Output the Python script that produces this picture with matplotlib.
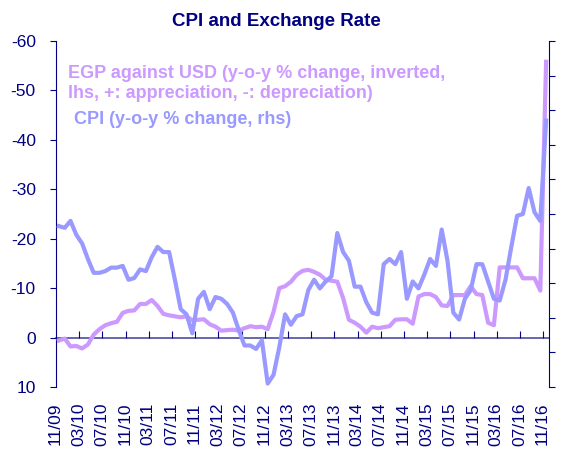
import numpy as np
import pandas as pd
import matplotlib
matplotlib.use("Agg")
import matplotlib.pyplot as plt
import matplotlib.transforms as mtransforms

plt.rcParams['font.family'] = ['Liberation Sans', 'DejaVu Sans']
plt.rcParams['axes.unicode_minus'] = False

# monthly data, Nov 2009 .. Nov 2016
months = pd.date_range("2009-11-01", periods=85, freq="MS").strftime("%m/%y").tolist()

# EGP against USD, y-o-y % change (lhs, inverted)
egp = [0.6, 0.2, 1.8, 1.7, 2.2, 1.4, -0.6, -1.7, -2.5, -2.9,
       -3.2, -5.0, -5.4, -5.5, -6.8, -6.8, -7.6, -6.4, -4.8, -4.5,
       -4.3, -4.1, -4.3, -3.5, -3.6, -3.7, -2.7, -2.2, -1.4, -1.5,
       -1.6, -1.4, -1.9, -2.3, -2.1, -2.2, -1.7, -5.2, -10.0, -10.4,
       -11.3, -12.7, -13.5, -13.7, -13.3, -12.7, -11.7, -11.5, -11.3, -8.0,
       -3.6, -3.0, -2.2, -1.0, -2.2, -1.9, -2.1, -2.3, -3.6, -3.7,
       -3.7, -2.8, -8.3, -8.8, -8.8, -8.2, -6.5, -6.4, -8.6, -8.6,
       -8.6, -10.4, -8.8, -8.6, -3.0, -2.5, -14.2, -14.2, -14.2, -14.2,
       -12.0, -12.0, -12.0, -9.5, -55.8]

# CPI, y-o-y % change (rhs)
cpi = [13.3, 13.2, 13.6, 12.8, 12.3, 11.4, 10.6, 10.6, 10.7, 10.9,
       10.9, 11.0, 10.2, 10.3, 10.8, 10.7, 11.5, 12.1, 11.8, 11.8,
       10.2, 8.5, 8.2, 7.1, 9.1, 9.5, 8.5, 9.2, 9.1, 8.8,
       8.3, 7.3, 6.4, 6.4, 6.2, 6.7, 4.2, 4.7, 6.3, 8.2,
       7.6, 8.1, 8.2, 9.6, 10.2, 9.7, 10.1, 10.4, 12.9, 11.8,
       11.3, 9.8, 9.8, 8.9, 8.3, 8.2, 11.1, 11.4, 11.1, 11.8,
       9.1, 10.1, 9.7, 10.5, 11.4, 11.0, 13.1, 11.3, 8.3, 7.9,
       9.1, 9.6, 11.1, 11.1, 10.1, 9.1, 9.0, 10.2, 12.1, 13.9,
       14.0, 15.5, 14.1, 13.6, 19.4]

navy = "#000080"
c_egp = "#CC99FF"
c_cpi = "#9999FF"

x = np.arange(len(months))

fig = plt.figure(figsize=(5.65, 4.54), dpi=100)
ax = fig.add_axes([56/565, 1 - 387/454, (549 - 56)/565, (387 - 41)/454])
ax2 = ax.twinx()

ax.plot(x, egp, color=c_egp, lw=3, solid_joinstyle="round", zorder=3)
ax2.plot(x, cpi, color=c_cpi, lw=3, solid_joinstyle="round", zorder=3)

ax.set_xlim(-0.5, len(months) - 0.5)
ax.set_ylim(10, -60)
ax.set_yticks(np.arange(-60, 11, 10))
ax2.set_ylim(4, 24)
ax2.set_yticks(np.arange(4, 25, 2))
ax2.set_yticklabels([])

# spines
for a in (ax, ax2):
    a.spines["top"].set_visible(False)
    a.patch.set_visible(False)
ax2.spines["bottom"].set_visible(False)
ax2.spines["left"].set_visible(False)
ax.spines["right"].set_visible(False)
ax.spines["left"].set_color(navy)
ax2.spines["right"].set_color(navy)
ax.spines["bottom"].set_position(("data", 0))
ax.spines["bottom"].set_color(navy)
ax.spines["bottom"].set_linewidth(1.2)
ax.spines["bottom"].set_alpha(0.7)

# x ticks between categories, on the zero line
ax.set_xticks(np.arange(3.5, len(months) - 1, 4))
ax.tick_params(axis="x", direction="in", length=5, color=navy, labelbottom=False)
ax.tick_params(axis="y", direction="out", length=4.5, color=navy, labelcolor=navy,
               labelsize=12.5, pad=10)
ax2.tick_params(axis="y", direction="out", length=4.5, color=navy)

# month labels below the plot
trans = mtransforms.blended_transform_factory(ax.transData, ax.transAxes)
for i in range(0, len(months), 4):
    ax.text(i - 0.6, -0.045, months[i], transform=trans, rotation=90,
            ha="center", va="top", fontsize=12.5, color=navy)

# legend text
fig.text(68/565, 1 - 83.5/454, "EGP against USD (y-o-y % change, inverted,\nlhs, +: appreciation, -: depreciation)",
         color=c_egp, fontsize=13, fontweight="bold", va="center", linespacing=1.3)
fig.text(74/565, 1 - 120/454, "CPI (y-o-y % change, rhs)",
         color=c_cpi, fontsize=13, fontweight="bold", va="center")

fig.text(276/565, 1 - 22/454, "CPI and Exchange Rate", color=navy,
         fontsize=13.5, fontweight="bold", ha="center", va="center")

fig.savefig("out.png", dpi=100)
